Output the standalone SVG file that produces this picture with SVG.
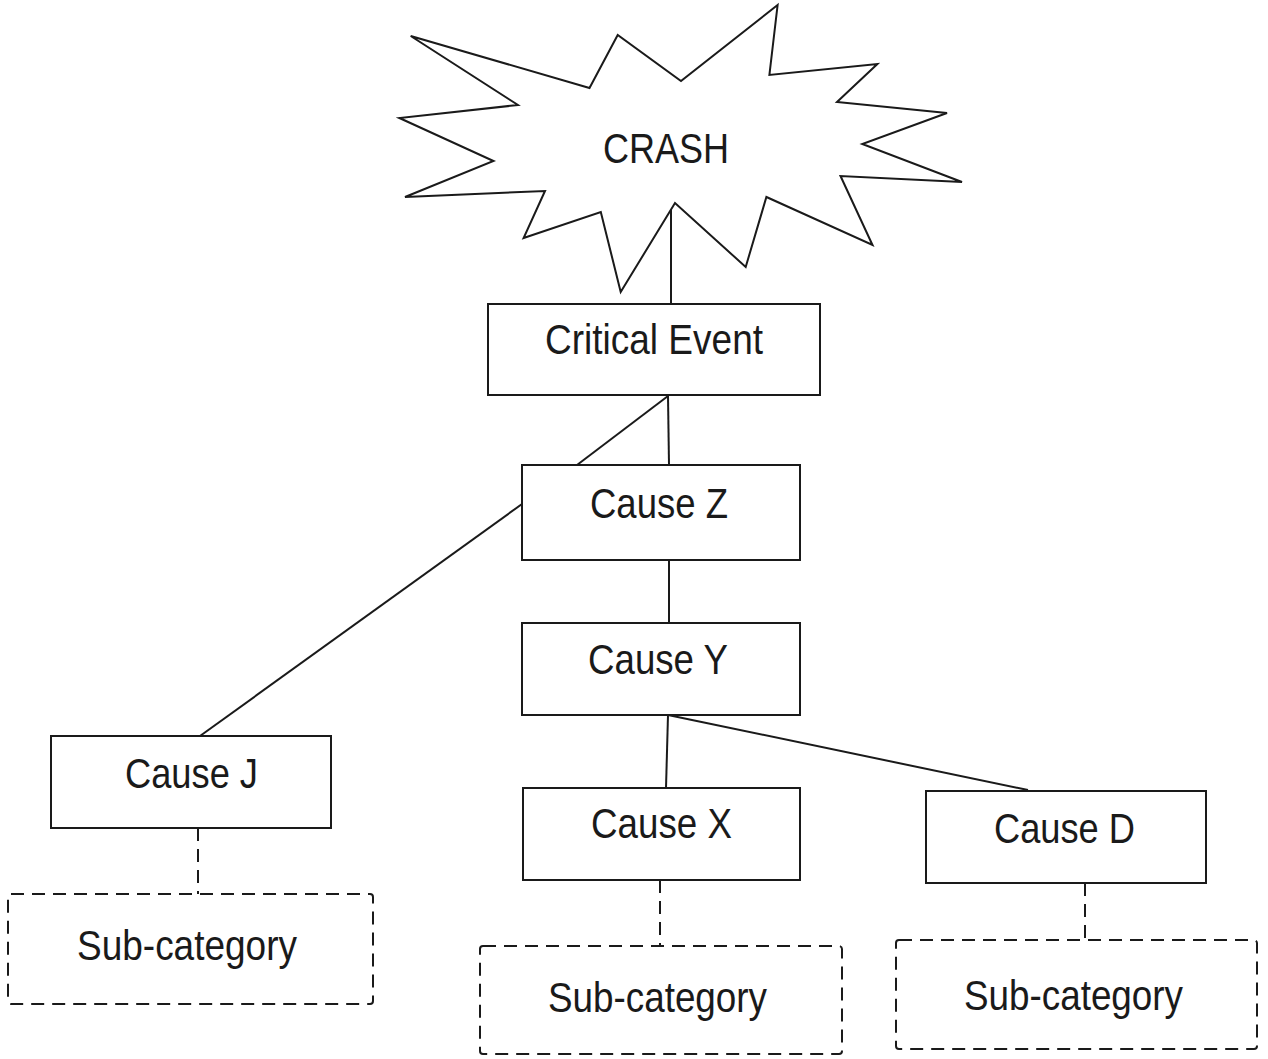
<svg xmlns="http://www.w3.org/2000/svg" width="1268" height="1059" viewBox="0 0 1268 1059">
<defs>
<style>
.box{fill:#fff;stroke:#1a1a1a;stroke-width:2}
.dbox{fill:#fff;stroke:#1a1a1a;stroke-width:2;stroke-dasharray:13 8}
.ln{fill:none;stroke:#1a1a1a;stroke-width:2}
.dln{fill:none;stroke:#1a1a1a;stroke-width:2;stroke-dasharray:13 8}
.t{font-family:"Liberation Sans",Arial,sans-serif;font-size:42px;fill:#1a1a1a}
</style>
</defs>
<rect width="1268" height="1059" fill="#fff"/>
<g id="connectors">
<line class="ln" x1="671" y1="210" x2="671" y2="304"/>
<line class="ln" x1="668" y1="396" x2="669" y2="465"/>
<line class="ln" x1="668" y1="396" x2="577" y2="465"/>
<line class="ln" x1="522" y1="504" x2="200" y2="736"/>
<line class="ln" x1="669" y1="560" x2="669" y2="623"/>
<line class="ln" x1="668" y1="715" x2="666" y2="788"/>
<line class="ln" x1="668" y1="715" x2="1028" y2="790"/>
<line class="dln" x1="198" y1="828" x2="198" y2="894"/>
<line class="dln" x1="660" y1="880" x2="660" y2="946"/>
<line class="dln" x1="1085" y1="883" x2="1085" y2="940"/>
</g>
<g id="crash">
<polygon class="box" points="410.7,36 589.5,88 617.7,35 681,81 777.6,5 769.4,75 877.4,64 837,102 947,113 862.3,144 962,182 840.5,176 872.5,245 766.4,197 745.7,267 675,203 620.7,292 600.8,212 523.6,238 545,191 405,197 493.5,161 399.4,118 518,105"/>
<line class="ln" x1="671" y1="210" x2="671" y2="292"/>
<text class="t" x="603" y="163" textLength="126" lengthAdjust="spacingAndGlyphs">CRASH</text>
</g>
<g id="critical-event">
<rect class="box" x="488" y="304" width="332" height="91"/>
<text class="t" x="545" y="354" textLength="218" lengthAdjust="spacingAndGlyphs">Critical Event</text>
</g>
<g id="cause-z">
<rect class="box" x="522" y="465" width="278" height="95"/>
<text class="t" x="590" y="518" textLength="138" lengthAdjust="spacingAndGlyphs">Cause Z</text>
</g>
<g id="cause-y">
<rect class="box" x="522" y="623" width="278" height="92"/>
<text class="t" x="588" y="674" textLength="140" lengthAdjust="spacingAndGlyphs">Cause Y</text>
</g>
<g id="cause-j">
<rect class="box" x="51" y="736" width="280" height="92"/>
<text class="t" x="125" y="788" textLength="133" lengthAdjust="spacingAndGlyphs">Cause J</text>
</g>
<g id="cause-x">
<rect class="box" x="523" y="788" width="277" height="92"/>
<text class="t" x="591" y="838" textLength="141" lengthAdjust="spacingAndGlyphs">Cause X</text>
</g>
<g id="cause-d">
<rect class="box" x="926" y="791" width="280" height="92"/>
<text class="t" x="994" y="843" textLength="141" lengthAdjust="spacingAndGlyphs">Cause D</text>
</g>
<g id="sub-j">
<rect class="dbox" x="8" y="894" width="365" height="110" rx="3"/>
<text class="t" x="77" y="960" textLength="220" lengthAdjust="spacingAndGlyphs">Sub-category</text>
</g>
<g id="sub-x">
<rect class="dbox" x="480" y="946" width="362" height="108" rx="3"/>
<text class="t" x="548" y="1012" textLength="219" lengthAdjust="spacingAndGlyphs">Sub-category</text>
</g>
<g id="sub-d">
<rect class="dbox" x="896" y="940" width="361" height="109" rx="3"/>
<text class="t" x="964" y="1010" textLength="219" lengthAdjust="spacingAndGlyphs">Sub-category</text>
</g>
</svg>
